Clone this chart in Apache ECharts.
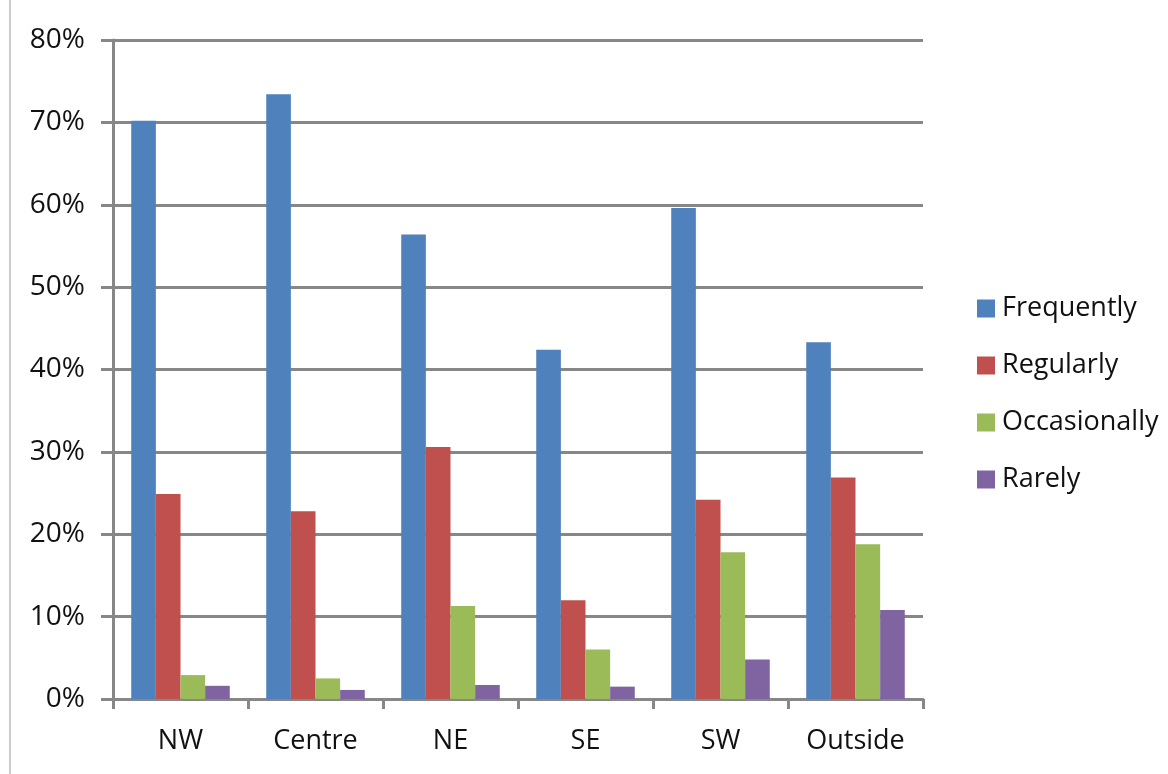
<!DOCTYPE html>
<html>
<head>
<meta charset="utf-8">
<script src="https://cdn.jsdelivr.net/npm/echarts@6/dist/echarts.min.js"></script>
<style>
  html, body { margin: 0; padding: 0; background: #fff; }
  #main { width: 1168px; height: 774px; }
</style>
</head>
<body>
<div id="main"></div>
<script>
const categories = ["NW", "Centre", "NE", "SE", "SW", "Outside"];
const frequently = [70.2, 73.4, 56.4, 42.4, 59.6, 43.3];
const regularly = [24.9, 22.8, 30.6, 12.0, 24.2, 26.9];
const occasionally = [2.9, 2.5, 11.3, 6.0, 17.8, 18.8];
const rarely = [1.6, 1.1, 1.7, 1.5, 4.8, 10.8];

const font = "Open Sans";
const axisGrey = "#878787";

function makeSeries(name, data, color) {
  return {
    name: name,
    type: "bar",
    data: data,
    barGap: 0,
    barCategoryGap: "27%",
    itemStyle: { color: color },
  };
}

const myChart = echarts.init(document.getElementById("main"));

myChart.setOption({
  animation: false,
  backgroundColor: "#fff",
  grid: { left: 113, right: 245, top: 40, bottom: 75 },
  legend: {
    orient: "vertical",
    left: 972,
    top: 290,
    itemWidth: 18,
    itemHeight: 18,
    itemGap: 30,
    icon: "rect",
    textStyle: { fontFamily: font, fontSize: 27, color: "#111", padding: [0, 0, 0, 2] },
  },
  xAxis: {
    type: "category",
    data: categories,
    axisLine: { lineStyle: { color: axisGrey, width: 3 } },
    axisTick: { show: true, length: 10, lineStyle: { color: axisGrey, width: 3 } },
    axisLabel: { margin: 29, fontFamily: font, fontSize: 27, color: "#111" },
  },
  yAxis: {
    type: "value",
    min: 0,
    max: 80,
    interval: 10,
    axisLine: { show: true, lineStyle: { color: axisGrey, width: 3 } },
    axisTick: { show: true, length: 12, lineStyle: { color: axisGrey, width: 3 } },
    axisLabel: {
      margin: 28,
      fontFamily: font,
      fontSize: 28,
      color: "#111",
      formatter: (v) => v + "%",
    },
    splitLine: { lineStyle: { color: axisGrey, width: 3 } },
  },
  graphic: [
    {
      type: "line",
      shape: { x1: 10, y1: 0, x2: 10, y2: 774 },
      style: { stroke: "#999", lineWidth: 1 },
    },
  ],
  series: [
    makeSeries("Frequently", frequently, "#4F81BD"),
    makeSeries("Regularly", regularly, "#C0504D"),
    makeSeries("Occasionally", occasionally, "#9BBB59"),
    makeSeries("Rarely", rarely, "#8064A2"),
  ],
});
</script>
</body>
</html>
